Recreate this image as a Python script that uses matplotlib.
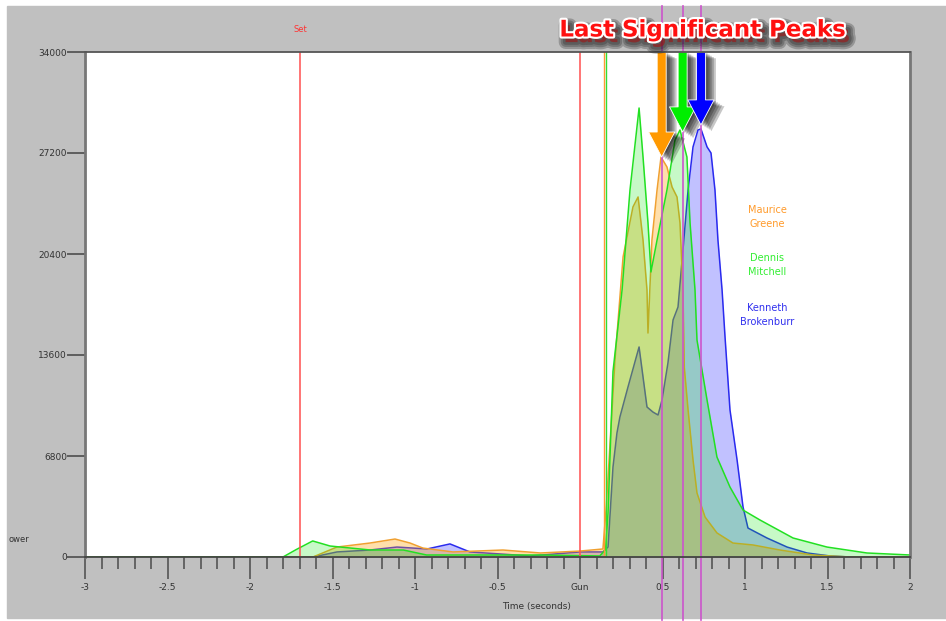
import matplotlib
matplotlib.use('Agg')
import matplotlib.pyplot as plt
import matplotlib.patheffects as pe
from matplotlib.patches import Rectangle

# reaction power traces (time in s, power)
green_t = [-3.0, -1.8, -1.72, -1.62, -1.515, -1.27, -1.07, -0.93, -0.67, -0.24, 0.12, 0.155,
           0.17, 0.2, 0.255, 0.303, 0.358, 0.382, 0.412, 0.43, 0.467, 0.527, 0.576, 0.606,
           0.648, 0.667, 0.697, 0.709, 0.77, 0.83, 0.909, 0.988, 1.091, 1.291, 1.497, 1.739, 2.0]
green_p = [0, 0, 500, 1080, 740, 470, 470, 135, 135, 135, 70, 500,
           3000, 12500, 17980, 24710, 30230, 26930, 22490, 19190, 21340, 24710, 28080, 28750,
           26930, 22490, 17980, 14610, 10570, 6730, 4710, 3160, 2490, 1280, 670, 270, 135]

orange_t = [-3.0, -1.618, -1.473, -1.273, -1.121, -1.03, -0.952, -0.77, -0.467, -0.24, 0.0, 0.139,
            0.16, 0.212, 0.261, 0.321, 0.352, 0.382, 0.406, 0.412, 0.436, 0.467, 0.491, 0.527,
            0.558, 0.588, 0.606, 0.624, 0.632, 0.655, 0.685, 0.709, 0.758, 0.83, 0.927, 1.048,
            1.212, 1.412, 1.636, 2.0]
orange_p = [0, 0, 670, 940, 1210, 940, 600, 340, 470, 270, 400, 540,
            3500, 13260, 20200, 23570, 24240, 21340, 17980, 15080, 21340, 24710, 26930, 26260,
            24910, 24240, 22490, 17980, 12790, 9900, 6530, 4310, 2690, 1620, 940, 810,
            470, 135, 0, 0]

blue_t = [-3.0, -1.618, -1.473, -1.273, -1.109, -0.927, -0.788, -0.667, -0.303, 0.0, 0.139, 0.17,
          0.2, 0.224, 0.242, 0.291, 0.358, 0.406, 0.442, 0.473, 0.497, 0.533, 0.564, 0.594,
          0.624, 0.655, 0.685, 0.715, 0.733, 0.77, 0.794, 0.818, 0.836, 0.861, 0.879, 0.909,
          0.952, 0.988, 1.018, 1.133, 1.255, 1.376, 1.515, 1.636, 2.0]
blue_p = [0, 0, 340, 470, 670, 540, 880, 340, 70, 340, 340, 670,
          6060, 8350, 9430, 11450, 14140, 10100, 9760, 9560, 10570, 13060, 15960, 16830,
          20670, 24710, 27610, 28750, 28820, 27610, 27200, 24710, 21340, 17980, 14810, 9900,
          6530, 3370, 1950, 1280, 670, 270, 70, 0, 0]

set_time = -1.7
start_orange = 0.145
start_green = 0.16
peaks = [0.495, 0.622, 0.733]
peak_tips = [26930, 28620, 29090]
peak_colors = ['#ff9900', '#00ee00', '#0000ff']

names = ['Maurice\nGreene', 'Dennis\nMitchell', 'Kenneth\nBrokenburr']
name_colors = ['#ff9a2a', '#33ee33', '#3030ee']
name_y = [22890, 19660, 16290]

xticks = [-3, -2.5, -2, -1.5, -1, -0.5, 0, 0.5, 1, 1.5, 2]
xticklabels = ['-3', '-2.5', '-2', '-1.5', '-1', '-0.5', 'Gun', '0.5', '1', '1.5', '2']
yticks = [0, 6800, 13600, 20400, 27200, 34000]

W, H = 946, 621
fig = plt.figure(figsize=(W / 100, H / 100), dpi=100)
fig.patch.set_facecolor('white')
fig.patches.append(Rectangle((7 / W, 3 / H), 939 / W, 612 / H, transform=fig.transFigure,
                             color='#c0c0c0', zorder=-5))

ax = fig.add_axes([85 / W, 64 / H, 825 / W, 505 / H])
ax.set_facecolor('white')
ax.set_xlim(-3, 2)
ax.set_ylim(0, 34000)

# fills + lines (blue underneath)
ax.fill_between(blue_t, blue_p, color='#3333ff', alpha=0.3, lw=0, zorder=2)
ax.plot(blue_t, blue_p, color='#2a2aee', lw=1.1, zorder=2)
ax.fill_between(orange_t, orange_p, color='#ffa000', alpha=0.33, lw=0, zorder=3)
ax.plot(orange_t, orange_p, color='#f0a030', lw=1.1, zorder=3)
ax.fill_between(green_t, green_p, color='#00e800', alpha=0.22, lw=0, zorder=4)
ax.plot(green_t, green_p, color='#22e022', lw=1.1, zorder=4)

ax.axvline(set_time, color='#ff5050', lw=1.1, zorder=5)
ax.axvline(0, color='#ff5050', lw=1.1, zorder=5)
ax.axvline(start_orange, color='#ff9933', lw=1, zorder=5)
ax.axvline(start_green, color='#33dd33', lw=1, zorder=5)

for p in peaks:
    ax.axvline(p, ymin=-63 / 505, ymax=551 / 505, clip_on=False, color='#cc55cc', lw=1.2, zorder=6)

# soft shadow built from a few faint offset copies
soft = [pe.SimplePatchShadow(offset=(o, -o * 0.6), shadow_rgbFace='black', alpha=0.22)
        for o in (1.5, 3, 4.5, 6, 7.5)]
for p, tip, c in zip(peaks, peak_tips, peak_colors):
    ax.annotate('', xy=(p, tip), xytext=(p, 34000), annotation_clip=False, zorder=8,
                arrowprops=dict(arrowstyle='simple,head_length=1.0,head_width=1.05,tail_width=0.36',
                                fc=c, ec='white', lw=0.6, shrinkA=0, shrinkB=0, mutation_scale=18,
                                path_effects=soft + [pe.Normal()]))

for n, c, y in zip(names, name_colors, name_y):
    ax.text(1.133, y, n, color=c, fontsize=7, ha='center', va='center', linespacing=1.6, zorder=7)

ax.set_xticks(xticks)
ax.set_xticklabels(xticklabels)
ax.set_xticks([x / 10 for x in range(-30, 21)], minor=True)
ax.set_yticks(yticks)
ax.set_yticklabels([str(v) for v in yticks])
ax.tick_params(axis='x', which='major', direction='out', length=16, width=1.2, colors='#555',
               labelcolor='#333', labelsize=6.5, pad=3)
ax.tick_params(axis='x', which='minor', direction='out', length=8.5, width=1.2, colors='#555')
ax.tick_params(axis='y', direction='out', length=13, width=1.1, colors='#444',
               labelcolor='#333', labelsize=6.5, pad=0)

for side, c, lw in [('bottom', '#444', 1.3), ('left', '#777', 2), ('top', '#555', 1.3), ('right', '#777', 2)]:
    ax.spines[side].set_color(c)
    ax.spines[side].set_linewidth(lw)
    ax.spines[side].set_zorder(9)

fig.text(300 / W, 1 - 29 / H, 'Set', color='#ff3333', fontsize=6, ha='center', va='center')
fig.text(537 / W, 1 - 607 / H, 'Time (seconds)', color='#333', fontsize=6.5, ha='center', va='center')
fig.text(8 / W, 1 - 540 / H, 'ower', color='#333', fontsize=6, ha='left', va='center')

title_fx = [pe.Stroke(linewidth=w, foreground='#151515', alpha=0.25, offset=(3, -4)) for w in (10, 7, 4)]
title_fx += [pe.Stroke(linewidth=3, foreground='white'), pe.Normal()]
fig.text(702 / W, 1 - 30 / H, 'Last Significant Peaks', color='#ff1010', fontsize=16.5,
         fontweight='bold', ha='center', va='center', zorder=10, path_effects=title_fx)

fig.savefig('out.png', dpi=100)
